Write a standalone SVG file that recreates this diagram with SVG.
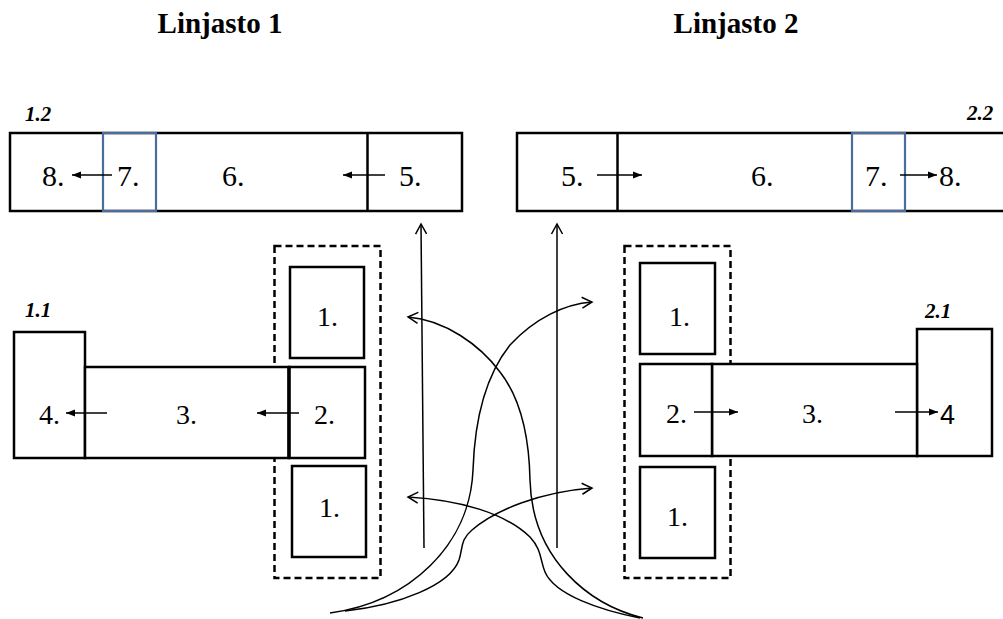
<svg xmlns="http://www.w3.org/2000/svg" width="1003" height="619" viewBox="0 0 1003 619">
<style>
.box{fill:#fff;stroke:#000;stroke-width:2.5}
.blue{fill:none;stroke:#4a6d9c;stroke-width:2.2}
.dash{fill:none;stroke:#000;stroke-width:2.5;stroke-dasharray:7,4}
.t{font-family:"Liberation Serif","Times New Roman",serif;font-size:30px;fill:#000}
.ts{font-family:"Liberation Serif","Times New Roman",serif;font-size:28px;fill:#000}
.title{font-family:"Liberation Serif","Times New Roman",serif;font-size:29px;font-weight:bold;fill:#000}
.lab{font-family:"Liberation Serif","Times New Roman",serif;font-size:21px;font-weight:bold;font-style:italic;fill:#000}
.ln{fill:none;stroke:#000;stroke-width:1.4}
.la{fill:none;stroke:#000;stroke-width:1.5}
</style>
<defs>
<marker id="fa" markerWidth="10" markerHeight="8" refX="9" refY="4" orient="auto" markerUnits="userSpaceOnUse">
<path d="M0,0.5 L9,4 L0,7.5 Z" fill="#000"/>
</marker>
<marker id="oa" markerWidth="14" markerHeight="14" refX="12" refY="7" orient="auto" markerUnits="userSpaceOnUse">
<path d="M2,1.5 L12,7 L2,12.5" fill="none" stroke="#000" stroke-width="1.5"/>
</marker>
</defs>
<rect width="1003" height="619" fill="#fff"/>

<text class="title" x="220" y="33" text-anchor="middle">Linjasto 1</text>
<text class="title" x="736" y="33" text-anchor="middle">Linjasto 2</text>

<g id="line1-top">
<text class="lab" x="25" y="121">1.2</text>
<rect class="box" x="10" y="133" width="452" height="78"/>
<line x1="367.5" y1="133" x2="367.5" y2="211" stroke="#000" stroke-width="2.5"/>
<rect class="blue" x="103" y="133" width="53" height="78"/>
<text class="t" x="42" y="186">8.</text>
<text class="t" x="117" y="186">7.</text>
<text class="t" x="222" y="186">6.</text>
<text class="t" x="399" y="186">5.</text>
</g>

<g id="line2-top">
<text class="lab" x="967" y="120">2.2</text>
<rect class="box" x="517" y="133" width="490" height="78"/>
<line x1="617.5" y1="133" x2="617.5" y2="211" stroke="#000" stroke-width="2.5"/>
<rect class="blue" x="852" y="133" width="53" height="78"/>
<text class="t" x="561" y="186">5.</text>
<text class="t" x="751" y="186">6.</text>
<text class="t" x="865" y="186">7.</text>
<text class="t" x="939" y="186">8.</text>
</g>

<g id="line1-bottom">
<rect class="dash" x="274.5" y="246" width="106" height="332"/>
<text class="lab" x="25" y="317">1.1</text>
<rect class="box" x="14" y="332" width="71" height="126"/>
<rect class="box" x="85" y="367" width="204" height="91"/>
<rect class="box" x="289" y="367" width="76" height="91"/>
<line x1="289" y1="367" x2="289" y2="458" stroke="#000" stroke-width="3.5"/>
<rect class="box" x="290" y="267" width="74" height="91"/>
<rect class="box" x="292" y="466" width="74" height="91"/>
<text class="ts" x="39" y="424">4.</text>
<text class="ts" x="176" y="424">3.</text>
<text class="ts" x="314" y="424">2.</text>
<text class="ts" x="317" y="326">1.</text>
<text class="ts" x="319" y="517">1.</text>
</g>

<g id="line2-bottom">
<rect class="dash" x="624.5" y="246" width="106" height="332"/>
<text class="lab" x="925" y="318">2.1</text>
<rect class="box" x="917" y="329" width="75" height="127"/>
<rect class="box" x="712" y="364" width="205" height="92"/>
<rect class="box" x="640" y="364" width="72" height="92"/>
<rect class="box" x="640" y="263" width="75" height="91"/>
<rect class="box" x="640" y="467" width="75" height="91"/>
<text class="ts" x="666" y="423">2.</text>
<text class="ts" x="802" y="423">3.</text>
<text x="940" y="424" font-family="Liberation Sans, Arial, sans-serif" font-size="27px" fill="#000">4</text>
<text class="ts" x="669" y="326">1.</text>
<text class="ts" x="667" y="526">1.</text>
</g>

<g id="connectors">
<line class="ln" x1="112" y1="175" x2="72" y2="175" marker-end="url(#fa)"/>
<line class="ln" x1="385" y1="175" x2="343" y2="175" marker-end="url(#fa)"/>
<line class="ln" x1="597" y1="175" x2="642" y2="175" marker-end="url(#fa)"/>
<line class="ln" x1="900" y1="175" x2="937" y2="175" marker-end="url(#fa)"/>
<line class="ln" x1="107" y1="413" x2="66" y2="413" marker-end="url(#fa)"/>
<line class="ln" x1="299" y1="413" x2="257" y2="413" marker-end="url(#fa)"/>
<line class="ln" x1="694" y1="412" x2="738" y2="412" marker-end="url(#fa)"/>
<line class="ln" x1="895" y1="412" x2="938" y2="412" marker-end="url(#fa)"/>

<line class="la" x1="424" y1="548" x2="421" y2="224" marker-end="url(#oa)"/>
<line class="la" x1="557" y1="548" x2="557" y2="224" marker-end="url(#oa)"/>
<path class="la" d="M330,613 C410,602 470,545 473,470 C475,410 490,370 510,345 C535,318 565,304 592,302" marker-end="url(#oa)"/>
<path class="la" d="M345,611 C400,605 450,585 459,560 C463,548 460,540 472,530 C495,510 540,492 592,488" marker-end="url(#oa)"/>
<path class="la" d="M643,618 C590,605 532,560 530,480 C529,430 518,395 500,372 C480,345 445,320 408,317" marker-end="url(#oa)"/>
<path class="la" d="M640,618 C600,610 555,595 545,572 C540,560 542,550 530,537 C505,513 460,500 408,497" marker-end="url(#oa)"/>
</g>
</svg>
